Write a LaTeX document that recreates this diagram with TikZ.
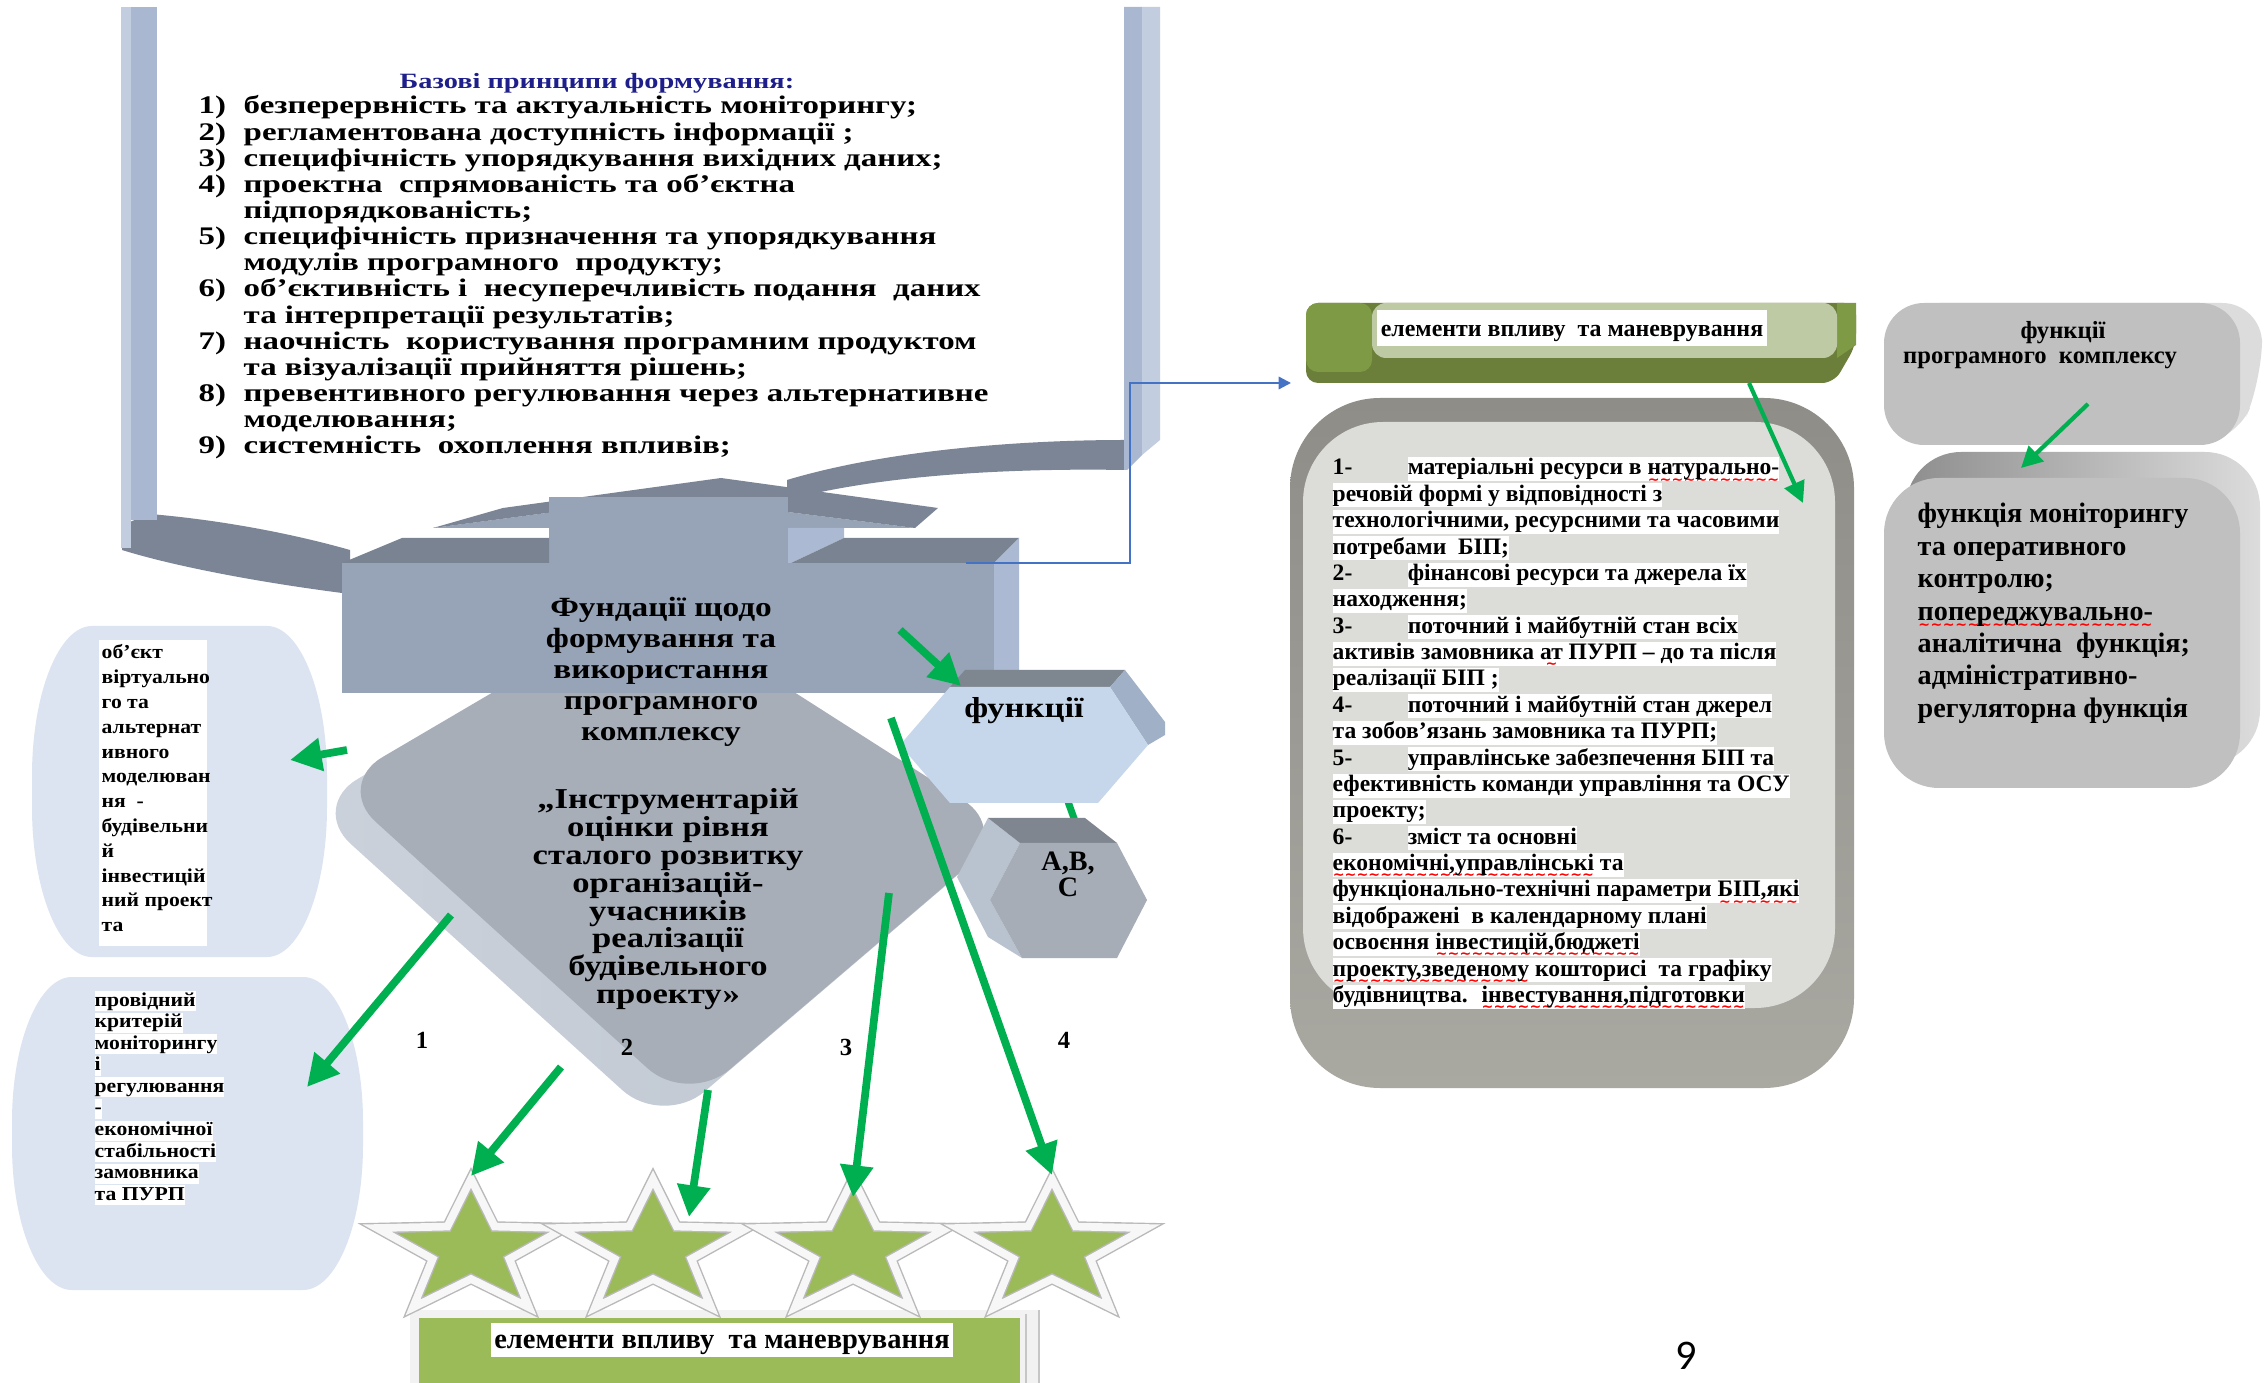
\documentclass[tikz,border=0pt]{standalone}
\usepackage{fontspec}
\setmainfont{Liberation Serif}
\newfontfamily\fL[FakeStretch=1.3]{Liberation Serif}
\newfontfamily\fM[FakeStretch=1.2]{Liberation Serif}
\newfontfamily\fS[FakeStretch=1.1]{Liberation Serif}
\newfontfamily\fR{Liberation Serif}
\newfontfamily\fN{Carlito}
\newfontfamily\fW{DejaVu Sans}
\usetikzlibrary{shapes.geometric,arrows.meta}

\definecolor{frameL}{HTML}{A9B8D0}
\definecolor{frameLL}{HTML}{C2CDDF}
\definecolor{frameD}{HTML}{7B8596}
\definecolor{boxF}{HTML}{97A3B6}
\definecolor{boxR}{HTML}{ABBAD2}
\definecolor{boxT}{HTML}{7A8391}
\definecolor{diaF}{HTML}{A7AEB8}
\definecolor{diaB}{HTML}{BEC6D1}
\definecolor{hexF}{HTML}{C6D6EB}
\definecolor{hexT}{HTML}{7E868F}
\definecolor{hexR}{HTML}{A0B0C6}
\definecolor{abcF}{HTML}{A6ADB7}
\definecolor{abcT}{HTML}{80868F}
\definecolor{abcL}{HTML}{B9C3CF}
\definecolor{leftC}{HTML}{DBE4F0}
\definecolor{arrowG}{HTML}{00B050}
\definecolor{starG}{HTML}{9BBB59}
\definecolor{barD}{HTML}{6B7E3A}
\definecolor{barM}{HTML}{7E9A45}
\definecolor{barL}{HTML}{BECAA3}
\definecolor{panT}{HTML}{8E8D88}
\definecolor{panB}{HTML}{A9A8A1}
\definecolor{panI}{HTML}{DCDDD8}
\definecolor{rbox}{HTML}{C0C0C0}
\definecolor{rboxR}{HTML}{DCDCDC}
\definecolor{rboxT}{HTML}{8E8E8E}
\definecolor{titleB}{HTML}{1F1F8C}
\definecolor{connB}{HTML}{4472C4}

\newsavebox\sqbox
\newcommand\sq[1]{\sbox\sqbox{#1}\rlap{\raisebox{-2.6pt}[0pt][0pt]{\textcolor{red}{\hbox to \wd\sqbox{\fW\fontsize{4}{4}\selectfont\xleaders\hbox{∼}\hfill}}}}\usebox\sqbox}
\newcommand\hlw[1]{{\fboxsep=0pt\colorbox{white}{\vrule height 0.76em depth 0.26em width 0pt\relax#1}}}
\newcommand\mlc[2]{\vtop{\baselineskip=#1\lineskiplimit=-100pt\lineskip=0pt\halign{\hfil##\hfil\cr#2\crcr}}}
\newcommand\mll[2]{\vtop{\baselineskip=#1\lineskiplimit=-100pt\lineskip=0pt\halign{##\hfil\cr#2\crcr}}}
\newcommand\nb[1]{\makebox[0.45cm][l]{#1}}
\newcommand\nn[1]{\makebox[0.75cm][l]{#1}}

\begin{document}
\begin{tikzpicture}[x=0.01cm,y=-0.01cm,
  garrow/.style={draw=arrowG, line width=2.2pt, -{Triangle[length=9pt,width=9pt]}},
  garrowt/.style={draw=arrowG, line width=1.2pt, -{Triangle[length=6pt,width=6pt]}},
  txt/.style={inner sep=0pt, text=black},
  lbl/.style={inner sep=0pt, font=\fR\bfseries\fontsize{7}{7}\selectfont},
  starn/.style={star, star points=5, star point ratio=2.45, minimum size=1.42cm, inner sep=0pt, fill=starG, draw=gray!55, line width=0.4pt, double=white!94!gray, double distance=2.2pt, transform shape}
]
\useasboundingbox (0,0) rectangle (2267,1383);
\fill[white] (0,0) rectangle (2267,1383);

% ---------- top frame ----------
\fill[frameD] (150,514) .. controls (220,520) and (290,533) .. (350,550) -- (350,594) .. controls (270,584) and (180,568) .. (122,550) -- (122,525) -- cycle;
\fill[frameL] (121,7) rectangle (157,520);
\fill[frameLL] (121,7) rectangle (131,548);
\fill[frameD] (1125,440) .. controls (1010,440) and (880,452) .. (787,480) -- (787,500) .. controls (880,475) and (1010,468) .. (1125,470) -- cycle;
\fill[frameL] (1124,7) -- (1142,7) -- (1142,455) -- (1127,470) -- (1124,470) -- cycle;
\fill[frameLL] (1142,7) -- (1160,7) -- (1160,440) -- (1142,455) -- cycle;

% ---------- left shapes ----------
\path[fill=leftC] (92,626) -- (267,626) arc[start angle=-90,end angle=0,x radius=60,y radius=150] -- (327,807) arc[start angle=0,end angle=90,x radius=60,y radius=150] -- (92,957) arc[start angle=90,end angle=180,x radius=60,y radius=150] -- (32,776) arc[start angle=180,end angle=270,x radius=60,y radius=150] -- cycle;
\path[fill=leftC] (72,977) -- (303,977) arc[start angle=-90,end angle=0,x radius=60,y radius=145] -- (363,1145) arc[start angle=0,end angle=90,x radius=60,y radius=145] -- (72,1290) arc[start angle=90,end angle=180,x radius=60,y radius=145] -- (12,1122) arc[start angle=180,end angle=270,x radius=60,y radius=145] -- cycle;

% ---------- diamond ----------
\begin{scope}[shift={(-25,22)}]
\shade[left color=diaB!80!white, right color=diaB, rounded corners=0.55cm] (335,785) -- (650,600) -- (1010,830) -- (688,1105) -- cycle;
\end{scope}
\fill[diaF, rounded corners=0.55cm] (335,785) -- (650,600) -- (1010,830) -- (688,1105) -- cycle;

% ---------- house (roof + box) ----------
\fill[boxF] (433,528) -- (668,497) -- (915,528) -- cycle;
\fill[frameD] (433,528) -- (503,508) -- (721,478) -- (938,508) -- (915,528) -- (668,497) -- cycle;
\fill[boxF] (549,497) rectangle (788,563);
\fill[boxR] (788,528) -- (844,528) -- (844,538) -- (791,563) -- (788,563) -- cycle;
\fill[boxT] (342,563) -- (402,538) -- (549,538) -- (549,563) -- cycle;
\fill[boxT] (791,563) -- (844,538) -- (1019,538) -- (994,563) -- cycle;
\fill[boxF] (342,563) rectangle (994,693);
\fill[boxR] (994,563) -- (1019,538) -- (1019,670) -- (994,693) -- cycle;

% ---------- hexagons ----------
\coordinate (c8a) at (1062,785);
\coordinate (c8b) at (1080,835);
\draw[arrowG, line width=2pt] (c8a) -- (c8b);
\fill[hexT] (950,687) -- (965,670) -- (1125,670) -- (1110,687) -- cycle;
\fill[hexR] (1110,687) -- (1125,670) -- (1165,722) -- (1165,735) -- (1148,745) -- cycle;
\fill[hexF] (950,687) -- (1110,687) -- (1148,745) -- (1098,803) -- (950,803) -- (900,745) -- cycle;
\fill[abcL] (988,818) -- (1020,843) -- (990,900) -- (1022,958) -- (988,937) -- (957,877) -- cycle;
\fill[abcT] (988,818) -- (1085,818) -- (1117,843) -- (1020,843) -- cycle;
\fill[abcF] (1020,843) -- (1117,843) -- (1147,900) -- (1117,958) -- (1022,958) -- (990,900) -- cycle;

% ---------- bottom green block and stars ----------
\fill[white!90!gray] (410,1310) rectangle (1039,1400);
\fill[starG] (419,1318) rectangle (1020,1400);
\draw[gray!45, line width=0.6pt] (1026,1314) -- (1026,1383);
\draw[gray!45, line width=0.6pt] (1039,1310) -- (1039,1383);
\begin{scope}[shift={(471,1250)}, xscale=1.39]\node[starn] (s1) at (0,0) {};\end{scope}
\begin{scope}[shift={(653,1250)}, xscale=1.39]\node[starn] (s2) at (0,0) {};\end{scope}
\begin{scope}[shift={(853,1250)}, xscale=1.39]\node[starn] (s3) at (0,0) {};\end{scope}
\begin{scope}[shift={(1052,1250)}, xscale=1.39]\node[starn] (s4) at (0,0) {};\end{scope}

% ---------- right side ----------
\fill[barD, rounded corners=0.12cm] (1306,303) -- (1856,303) -- (1856,345) -- (1834,383) -- (1306,383) -- cycle;
\fill[barM, rounded corners=0.12cm] (1306,303) -- (1372,303) -- (1372,372) -- (1306,372) -- cycle;
\fill[barM] (1837,303) -- (1856,303) -- (1856,345) -- (1837,358) -- cycle;
\fill[barL, rounded corners=0.14cm] (1372,303) -- (1837,303) -- (1837,358) -- (1372,358) -- cycle;

\shade[top color=panT, bottom color=panB, rounded corners=0.9cm] (1290,398) rectangle (1854,1088);
\fill[panI, rounded corners=0.8cm] (1303,422) rectangle (1835,1008);

\fill[rboxR, rounded corners=0.4cm] (1900,303) -- (2262,303) -- (2262,380) -- (2234,445) -- (1900,445) -- cycle;
\fill[rbox, rounded corners=0.4cm] (1884,303) rectangle (2240,445);
\shade[left color=rboxT, right color=rboxR, rounded corners=0.55cm] (1906,452) rectangle (2260,765);
\fill[rbox, rounded corners=0.55cm] (1884,478) rectangle (2240,788);

% ---------- connectors ----------
\coordinate (a1s) at (347,750);  \coordinate (a1e) at (290,760);
\coordinate (a2s) at (451,915);  \coordinate (a2e) at (307,1087);
\coordinate (a3s) at (561,1067); \coordinate (a3e) at (471,1176);
\coordinate (a4s) at (708,1090); \coordinate (a4e) at (689,1217);
\coordinate (a5s) at (889,893);  \coordinate (a5e) at (853,1197);
\coordinate (a6s) at (891,718);  \coordinate (a6e) at (1052,1175);
\coordinate (a7s) at (900,630);  \coordinate (a7e) at (961,686);
\coordinate (a9s) at (1749,383); \coordinate (a9e) at (1803,503);
\coordinate (a10s) at (2088,404); \coordinate (a10e) at (2021,468);
\draw[garrow] (a1s) -- (a1e);
\draw[garrow] (a2s) -- (a2e);
\draw[garrow] (a3s) -- (a3e);
\draw[garrow] (a4s) -- (a4e);
\draw[garrow] (a5s) -- (a5e);
\draw[garrow] (a6s) -- (a6e);
\draw[garrow] (a7s) -- (a7e);
\draw[garrowt] (a9s) -- (a9e);
\draw[garrowt] (a10s) -- (a10e);
\coordinate (bcS) at (966,563);
\coordinate (bcM) at (1130,383);
\coordinate (bcE) at (1291,383);
\draw[connB, line width=0.6pt, -{Triangle[length=3.5pt,width=3.5pt]}] (bcS) -| (bcM) -- (bcE);

% ---------- texts ----------
\node[anchor=base, txt, text=titleB, font=\fL\bfseries\fontsize{6.2}{7}\selectfont] (title) at (597,89) {Базові принципи формування:};
\node[anchor=base west, txt, font=\fL\bfseries\fontsize{7.2}{7.43}\selectfont] (plist) at (198,114) {\mll{7.43pt}{%
\nb{1)}безперервність та актуальність моніторингу;\cr
\nb{2)}регламентована доступність інформації ;\cr
\nb{3)}специфічність упорядкування вихідних даних;\cr
\nb{4)}проектна \ спрямованість та об’єктна\cr
\nb{}підпорядкованість;\cr
\nb{5)}специфічність призначення та упорядкування\cr
\nb{}модулів програмного \ продукту;\cr
\nb{6)}об’єктивність і \ несуперечливість подання \ даних\cr
\nb{}та інтерпретації результатів;\cr
\nb{7)}наочність \ користування програмним продуктом\cr
\nb{}та візуалізації прийняття рішень;\cr
\nb{8)}превентивного регулювання через альтернативне\cr
\nb{}моделювання;\cr
\nb{9)}системність \ охоплення впливів;}};

\node[anchor=base, txt, font=\fM\bfseries\fontsize{7.9}{8.8}\selectfont] (fund) at (661,617) {\mlc{8.8pt}{Фундації щодо\cr формування та\cr використання\cr програмного\cr комплексу}};
\node[anchor=base, txt, font=\fM\bfseries\fontsize{8.2}{7.9}\selectfont] (instr) at (668,809) {\mlc{7.9pt}{„Інструментарій\cr оцінки рівня\cr сталого розвитку\cr організацій-\cr учасників\cr реалізації\cr будівельного\cr проекту»}};

\node[txt, font=\fM\bfseries\fontsize{8.2}{8.2}\selectfont] (fnt) at (1024,711) {функції};
\node[anchor=base, txt, font=\fR\bfseries\fontsize{8}{8}\selectfont] (abct) at (1068,870) {\mlc{7.6pt}{A,B,\cr C}};

\node[lbl] (n1) at (422,1040) {1};
\node[lbl] (n2) at (627,1047) {2};
\node[lbl] (n3) at (846,1047) {3};
\node[lbl] (n4) at (1064,1040) {4};

\fill[white] (99,640) rectangle (207,946);
\node[anchor=base west, txt, font=\fS\bfseries\fontsize{5.6}{7}\selectfont] (ltext) at (101,659) {\mll{7.05pt}{об’єкт\cr віртуально\cr го та\cr альтернат\cr ивного\cr моделюван\cr ня \ -\cr будівельни\cr й\cr інвестицій\cr ний проект\cr та}};

\node[anchor=base west, txt, font=\fS\bfseries\fontsize{5.6}{6.1}\selectfont] (btext) at (94,1006) {\mll{6.14pt}{\hlw{провідний}\cr \hlw{критерій}\cr \hlw{моніторингу}\cr \hlw{і}\cr \hlw{регулювання}\cr \hlw{-}\cr \hlw{економічної}\cr \hlw{стабільності}\cr \hlw{замовника}\cr \hlw{та ПУРП}}};

\node[txt, fill=white, inner xsep=1pt, text height=0.72em, text depth=0.22em, font=\fR\bfseries\fontsize{8.1}{8.1}\selectfont] (bgt) at (722,1340) {елементи впливу \ та маневрування};

\node[txt, fill=white, inner xsep=1pt, text height=0.75em, text depth=0.25em, font=\fR\bfseries\fontsize{6.8}{7}\selectfont] (gbt) at (1572,328) {елементи впливу \ та маневрування};

\node[anchor=base west, txt, font=\fR\bfseries\fontsize{6.7}{7.5}\selectfont] (ptext) at (1332,475) {\mll{7.5pt}{%
\nn{1-}\hlw{матеріальні ресурси в \sq{натурально-}}\cr
\hlw{речовій формі у відповідності з}\cr
\hlw{технологічними, ресурсними та часовими}\cr
\hlw{потребами \ БІП;}\cr
\nn{2-}\hlw{фінансові ресурси та джерела їх}\cr
\hlw{находження;}\cr
\nn{3-}\hlw{поточний і майбутній стан всіх}\cr
\hlw{активів замовника \sq{ат} ПУРП – до та після}\cr
\hlw{реалізації БІП ;}\cr
\nn{4-}\hlw{поточний і майбутній стан джерел}\cr
\hlw{та зобов’язань замовника та ПУРП;}\cr
\nn{5-}\hlw{управлінське забезпечення БІП та}\cr
\hlw{ефективність команди управління та ОСУ}\cr
\hlw{проекту;}\cr
\nn{6-}\hlw{зміст та основні}\cr
\hlw{\sq{економічні,управлінські} та}\cr
\hlw{функціонально-технічні параметри \sq{БІП,які}}\cr
\hlw{відображені \ в календарному плані}\cr
\hlw{освоєння \sq{інвестицій,бюджеті}}\cr
\hlw{\sq{проекту,зведеному} кошторисі \ та графіку}\cr
\hlw{будівництва. \ \sq{інвестування,підготовки}}}};

\node[txt, font=\fR\bfseries\fontsize{7}{7}\selectfont] (b1a) at (2063,333) {функції};
\node[txt, font=\fR\bfseries\fontsize{7}{7}\selectfont] (b1b) at (2040,360) {програмного \ комплексу};

\node[anchor=base west, txt, font=\fR\bfseries\fontsize{8}{9.2}\selectfont] (b2t) at (1917,523) {\mll{9.2pt}{функція моніторингу\cr та оперативного\cr контролю;\cr \sq{попереджувально-}\cr аналітична \ функція;\cr адміністративно-\cr регуляторна функція}};

\node[txt, font=\fN\fontsize{12}{12}\selectfont] (pg) at (1686,1356) {9};
\end{tikzpicture}
\end{document}
